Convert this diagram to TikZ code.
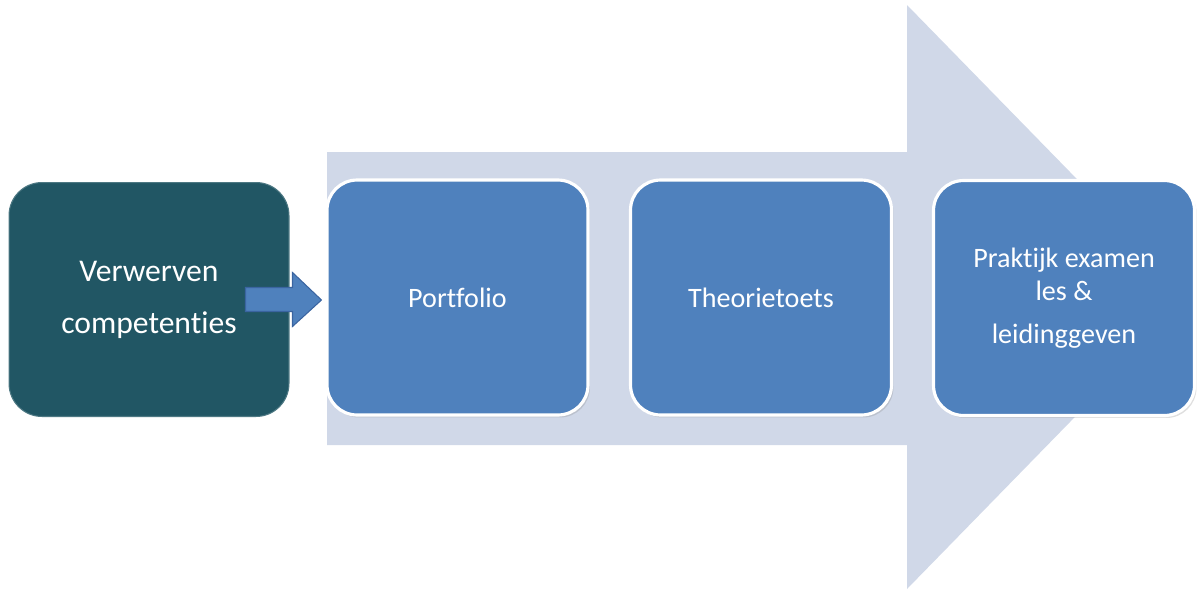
\documentclass[tikz,border=0pt]{standalone}
\usepackage{fontspec}
\setmainfont{Carlito}[Ligatures={NoCommon,NoContextual}]
\usetikzlibrary{calc,shadows}
\definecolor{arrowbg}{HTML}{D0D8E8}
\definecolor{boxblue}{HTML}{4F81BD}
\definecolor{darkteal}{HTML}{215664}
\definecolor{arrowedge}{HTML}{3A64A0}
\begin{document}
\begin{tikzpicture}[x=0.02cm,y=-0.02cm,
  bluebox/.style={draw=white, line width=1.8pt, fill=boxblue, rounded corners=0.6cm,
    minimum width=5.22cm, minimum height=4.7cm, text=white, align=center, inner sep=0pt,
    font=\fontsize{16}{19}\selectfont,
    drop shadow={opacity=0.25, shadow xshift=0.04cm, shadow yshift=-0.05cm}},
  tealbox/.style={draw=darkteal!80!white, line width=0.6pt, fill=darkteal, rounded corners=0.66cm,
    minimum width=5.6cm, minimum height=4.68cm, text=white, align=center, inner sep=0pt,
    font=\fontsize{18}{29.5}\selectfont},
  smallarrow/.style={fill=boxblue, draw=arrowedge, line width=0.6pt}]
\useasboundingbox (0,0) rectangle (1198,589);
\fill[arrowbg] (327,152) -- (907,152) -- (907,5) -- (1192,297) -- (907,589) -- (907,445) -- (327,445) -- cycle;
\node[tealbox] (L) at (149,299.5) {Verwerven\\competenties};
\node[bluebox] (P) at (457.5,297.5) {Portfolio};
\node[bluebox] (T) at (761,297.5) {Theorietoets};
\node[bluebox] (E) at (1064,298) {Praktijk examen\\les \&\\[5pt]leidinggeven};
\coordinate (tip) at ($(P.west)+(-4,2.5)$);
\draw[smallarrow] ($(L.east)+(-44,-12)$) -- ($(L.east)+(3,-12)$) -- ($(L.east)+(3,-27)$)
  -- (tip) -- ($(L.east)+(3,27)$) -- ($(L.east)+(3,12)$) -- ($(L.east)+(-44,12)$) -- cycle;
\end{tikzpicture}
\end{document}
